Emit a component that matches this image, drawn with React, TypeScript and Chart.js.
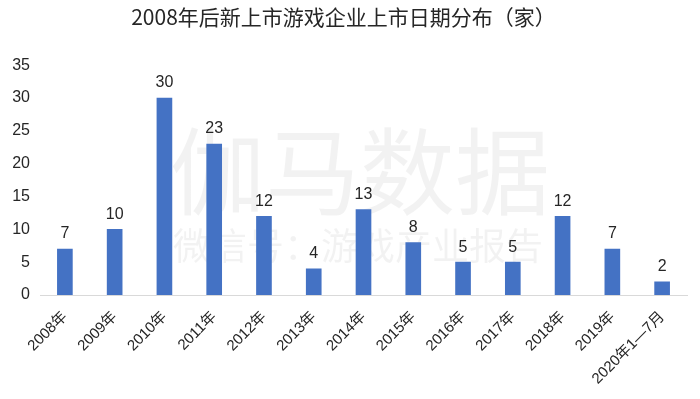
import React, { useEffect, useRef } from "react";
import { Chart, registerables } from "chart.js";

Chart.register(...registerables);

const categories = ["2008年", "2009年", "2010年", "2011年", "2012年", "2013年", "2014年", "2015年", "2016年", "2017年", "2018年", "2019年", "2020年1—7月"];
const values = [7, 10, 30, 23, 12, 4, 13, 8, 5, 5, 12, 7, 2];
const yTicks = [0, 5, 10, 15, 20, 25, 30, 35];
const titleText = "2008年后新上市游戏企业上市日期分布（家）";
const watermarkMain = "伽马数据";
const watermarkSub = "微信号：游戏产业报告";

const FONT = "'Liberation Sans', Arial, 'Noto Sans CJK SC', sans-serif";

const watermarkPlugin = {
  id: "watermark",
  beforeDatasetsDraw(chart: any) {
    const ctx = chart.ctx;
    ctx.save();
    ctx.fillStyle = "rgba(0,0,0,0.05)";
    ctx.textAlign = "center";
    ctx.textBaseline = "middle";
    ctx.font = "95px 'Noto Sans CJK SC', sans-serif";
    ctx.fillText(watermarkMain, 360, 172);
    ctx.font = "37px 'Noto Sans CJK SC', sans-serif";
    ctx.fillText(watermarkSub, 358, 246);
    ctx.restore();
  },
};

const dataLabelPlugin = {
  id: "dataLabels",
  afterDatasetsDraw(chart: any) {
    const ctx = chart.ctx;
    const meta = chart.getDatasetMeta(0);
    ctx.save();
    ctx.fillStyle = "#262626";
    ctx.font = "16px " + FONT;
    ctx.textAlign = "center";
    ctx.textBaseline = "middle";
    meta.data.forEach((bar: any, i: number) => {
      ctx.fillText(String(values[i]), bar.x, bar.y - 15);
    });
    ctx.restore();
  },
};

export default function App() {
  const ref = useRef<HTMLCanvasElement | null>(null);
  useEffect(() => {
    if (!ref.current) return;
    const chart = new Chart(ref.current, {
      type: "bar",
      data: {
        labels: categories,
        datasets: [
          {
            data: values,
            backgroundColor: "#4472C4",
            barThickness: 15,
          },
        ],
      },
      options: {
        animation: false,
        responsive: false,
        layout: { padding: { left: 0, right: 13, top: 0, bottom: 0 } },
        plugins: {
          legend: { display: false },
          tooltip: { enabled: false },
          title: {
            display: true,
            text: titleText,
            color: "#262626",
            font: { size: 21, family: "'Noto Sans CJK SC', sans-serif", weight: "normal" },
            padding: { top: 4, bottom: 36 },
          },
        },
        scales: {
          x: {
            grid: { display: false, drawTicks: false },
            border: { display: true, color: "#D9D9D9" },
            ticks: {
              color: "#262626",
              font: { size: 15, family: FONT },
              maxRotation: 45,
              minRotation: 45,
              autoSkip: false,
              padding: 13,
            },
            afterFit(scale: any) {
              scale.height = 104;
            },
          },
          y: {
            min: 0,
            max: 35,
            grid: { display: false, drawTicks: false },
            border: { display: false },
            afterBuildTicks(scale: any) {
              scale.ticks = yTicks.map((v) => ({ value: v }));
            },
            ticks: {
              color: "#262626",
              font: { size: 16, family: FONT },
              padding: 10,
            },
            afterFit(scale: any) {
              scale.width = 40;
            },
          },
        },
      },
      plugins: [watermarkPlugin, dataLabelPlugin],
    });
    return () => chart.destroy();
  }, []);
  return (
    <div style={{ position: "absolute", left: 0, top: 0, width: 700, height: 399, background: "#fff" }}>
      <canvas ref={ref} width={700} height={399} />
    </div>
  );
}
